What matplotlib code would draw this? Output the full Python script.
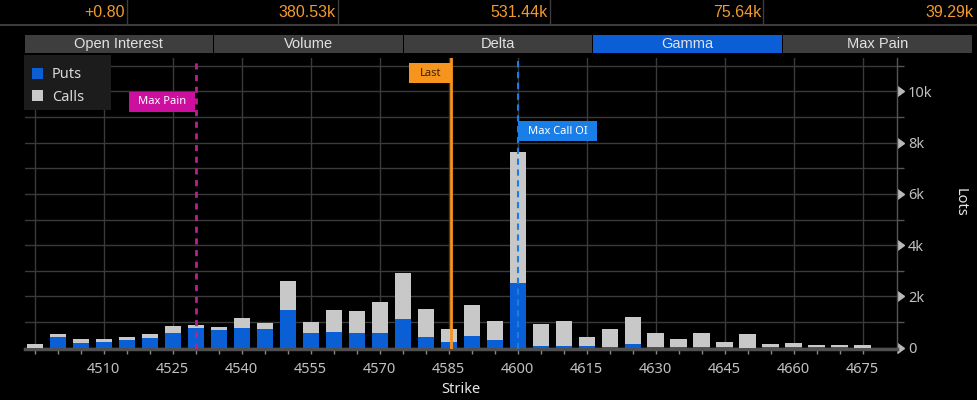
import matplotlib
matplotlib.use("Agg")
import matplotlib.pyplot as plt
from matplotlib.patches import Rectangle, Patch
from matplotlib.path import Path
from matplotlib.ticker import FuncFormatter, FixedLocator
import matplotlib.transforms as mtransforms

# ---------------- data ----------------
strikes = [4495, 4500, 4505, 4510, 4515, 4520, 4525, 4530, 4535, 4540,
           4545, 4550, 4555, 4560, 4565, 4570, 4575, 4580, 4585, 4590,
           4595, 4600, 4605, 4610, 4615, 4620, 4625, 4630, 4635, 4640,
           4645, 4650, 4655, 4660, 4665, 4670, 4675]
puts = [0, 410, 180, 230, 280, 370, 570, 760, 670, 760,
        710, 1460, 570, 620, 580, 580, 1110, 410, 230, 460,
        280, 2530, 60, 60, 50, 20, 140, 30, 30, 30,
        30, 0, 30, 30, 20, 20, 0]
calls = [130, 120, 140, 90, 130, 160, 270, 120, 130, 390,
         260, 1140, 440, 840, 850, 1190, 1800, 1090, 480, 1210,
         740, 5110, 860, 960, 360, 690, 1050, 550, 290, 550,
         200, 540, 110, 150, 80, 80, 100]
x_tick_values = [4495, 4510, 4525, 4540, 4555, 4570, 4585, 4600, 4615,
                 4630, 4645, 4660, 4675]
x_tick_labels = ["", "4510", "4525", "4540", "4555", "4570", "4585", "4600",
                 "4615", "4630", "4645", "4660", "4675"]
y_tick_values = [0, 2000, 4000, 6000, 8000, 10000]
max_pain_strike = 4530
last_price = 4585.5
max_call_oi_strike = 4600
header_values = ["+0.80", "380.53k", "531.44k", "75.64k", "39.29k"]
tab_labels = ["Open Interest", "Volume", "Delta", "Gamma", "Max Pain"]
active_tab = "Gamma"

# ---------------- style ----------------
W, H = 977, 400
BLUE = "#0b5fd4"
GRAY = "#c8c8c8"
ORANGE = "#f7941d"
CALLBLUE = "#1a7ee8"
TXT = "#c0c0c0"
FONT = ["Noto Sans", "DejaVu Sans"]
NARROW = ["Liberation Sans Narrow", "Liberation Sans", "DejaVu Sans"]

plt.rcParams["font.family"] = FONT

fig = plt.figure(figsize=(W / 100, H / 100), dpi=100, facecolor="black")


def fx(px):
    return px / W


def fy(py):
    return 1 - py / H


class PadBox:
    """Rectangular text box with separate horizontal / vertical padding (px)."""

    def __init__(self, padx, pady):
        self.padx = padx
        self.pady = pady

    def __call__(self, x0, y0, width, height, mutation_size):
        x0 -= self.padx
        y0 -= self.pady
        x1 = x0 + width + 2 * self.padx
        y1 = y0 + height + 2 * self.pady
        return Path([(x0, y0), (x1, y0), (x1, y1), (x0, y1), (x0, y0)],
                    closed=True)


# header strip
sep_x = [126.5, 338, 550, 763]
right_edges = [124.5, 336, 548, 761, 973]
for val, xr in zip(header_values, right_edges):
    fig.text(fx(xr), fy(12.5), val, ha="right", va="center", color="#f39a2d",
             fontsize=11.5, family=NARROW)
for sx in sep_x:
    fig.add_artist(plt.Line2D([fx(sx), fx(sx)], [fy(0), fy(24)], color="#3c3c3c",
                              lw=1, transform=fig.transFigure))
fig.add_artist(plt.Line2D([0, 1], [fy(25), fy(25)], color="#3c3c3c", lw=1.5,
                          transform=fig.transFigure))

# tabs
tab_x0, tab_x1 = 24, 972
tab_w = (tab_x1 - tab_x0) / len(tab_labels)
for i, lab in enumerate(tab_labels):
    x0 = tab_x0 + i * tab_w
    col = "#0b5ed6" if lab == active_tab else "#3e3e3e"
    fig.add_artist(Rectangle((fx(x0 + 0.5), fy(53)), fx(tab_w - 1), 18 / H,
                             transform=fig.transFigure, facecolor=col,
                             edgecolor="none"))
    fig.text(fx(x0 + tab_w / 2), fy(44), lab, ha="center", va="center",
             color="#e2e2e2", fontsize=10.5, family=NARROW)

# ---------------- axes ----------------
ax_left, ax_right = 25, 897
ax_bottom_px, ax_top_px = 348.8, 58.2
ax = fig.add_axes([fx(ax_left), fy(ax_bottom_px), fx(ax_right - ax_left),
                   (ax_bottom_px - ax_top_px) / H])
ax.set_facecolor("black")

ax.bar(strikes, puts, width=3.5, color=BLUE, zorder=3, label="Puts")
ax.bar(strikes, calls, width=3.5, bottom=puts, color=GRAY, zorder=3,
       label="Calls")

ax.set_xlim(4492.9, 4682.5)
ax.set_ylim(-50, 11300)

# grid
ax.xaxis.set_major_locator(FixedLocator(x_tick_values))
ax.set_xticklabels(x_tick_labels)
ax.xaxis.set_minor_locator(FixedLocator(strikes))
ax.yaxis.set_major_locator(FixedLocator(y_tick_values))
ax.yaxis.set_minor_locator(FixedLocator([1000, 3000, 5000, 7000, 9000, 11000]))
ax.grid(True, which="both", axis="y", color="#3a3a3a", lw=1, zorder=1)
ax.grid(True, which="major", axis="x", color="#3a3a3a", lw=1, zorder=1)

ax.yaxis.tick_right()
ax.yaxis.set_major_formatter(FuncFormatter(
    lambda v, p: "0" if v == 0 else f"{int(v / 1000)}k"))

for s in ["top", "left"]:
    ax.spines[s].set_visible(False)
ax.spines["right"].set_color("#555555")
ax.spines["right"].set_linewidth(1)
ax.spines["bottom"].set_color("#505050")
ax.spines["bottom"].set_linewidth(2.5)
ax.spines["bottom"].set_zorder(2)

ax.tick_params(axis="x", which="both", length=3.5, width=1, color="#8a8a8a",
               labelsize=10.5, labelcolor=TXT, pad=6)
ax.tick_params(axis="y", which="major", length=6, width=1, color="#b0b0b0",
               labelsize=10.5, labelcolor=TXT, pad=2)
ax.tick_params(axis="y", which="minor", length=5, width=1, color="#555555")
for t in ax.yaxis.get_major_ticks():
    t.tick2line.set_marker(9)
    t.tick2line.set_markersize(7)
    t.tick2line.set_markerfacecolor("#b8b8b8")
    t.tick2line.set_markeredgecolor("#b8b8b8")

ax.set_xlabel("Strike", color="#e8e8e8", fontsize=10.5)
ax.xaxis.set_label_coords(0.5, -0.115)
fig.text(fx(960), fy(202), "Lots", rotation=270, ha="center", va="center",
         color="#e8e8e8", fontsize=10.5)

# reference lines
ax.axvline(max_pain_strike, color="#b8208f", lw=2, ls=(0, (2.2, 2)), zorder=5)
ax.axvline(last_price, color=ORANGE, lw=2, zorder=5)
ax.axvline(max_call_oi_strike, color=CALLBLUE, lw=1.5, ls=(0, (3, 2.2)),
           zorder=5)

PADX, PADY = 10, 4.5
shift_l = mtransforms.offset_copy(ax.transData, fig=fig, x=-PADX, y=0,
                                  units="dots")
shift_r = mtransforms.offset_copy(ax.transData, fig=fig, x=PADX, y=0,
                                  units="dots")
ax.text(max_pain_strike, 9590, "Max Pain", transform=shift_l, ha="right",
        va="center", color="white", fontsize=8, fontweight="bold",
        bbox=dict(boxstyle=PadBox(PADX - 1, PADY), fc="#cc0f9e", ec="none"),
        zorder=6)
ax.text(last_price, 10720, "Last", transform=shift_l, ha="right",
        va="center", color="#3a2200", fontsize=8,
        bbox=dict(boxstyle=PadBox(PADX, PADY), fc=ORANGE, ec="none"),
        zorder=6)
ax.text(max_call_oi_strike, 8450, "Max Call OI", transform=shift_r,
        ha="left", va="center", color="white", fontsize=8,
        bbox=dict(boxstyle=PadBox(PADX, PADY), fc=CALLBLUE, ec="none"),
        zorder=6)

# legend (panel drawn as a figure rectangle)
fig.add_artist(Rectangle((fx(24), fy(110)), fx(87), 55 / H,
                         transform=fig.transFigure, facecolor="#1c1c1c",
                         edgecolor="none", zorder=8))
handles = [Patch(facecolor=BLUE, edgecolor="none", label="Puts"),
           Patch(facecolor=GRAY, edgecolor="none", label="Calls")]
leg = fig.legend(handles=handles, loc="upper left",
                 bbox_to_anchor=(fx(28), fy(63)), borderaxespad=0,
                 frameon=False, fontsize=10.5, handlelength=0.75,
                 handleheight=0.75, handletextpad=0.6, labelspacing=0.5,
                 borderpad=0.3)
for t in leg.get_texts():
    t.set_color("#d8d8d8")
leg.set_zorder(10)

fig.savefig("out.png", dpi=100, facecolor="black")
